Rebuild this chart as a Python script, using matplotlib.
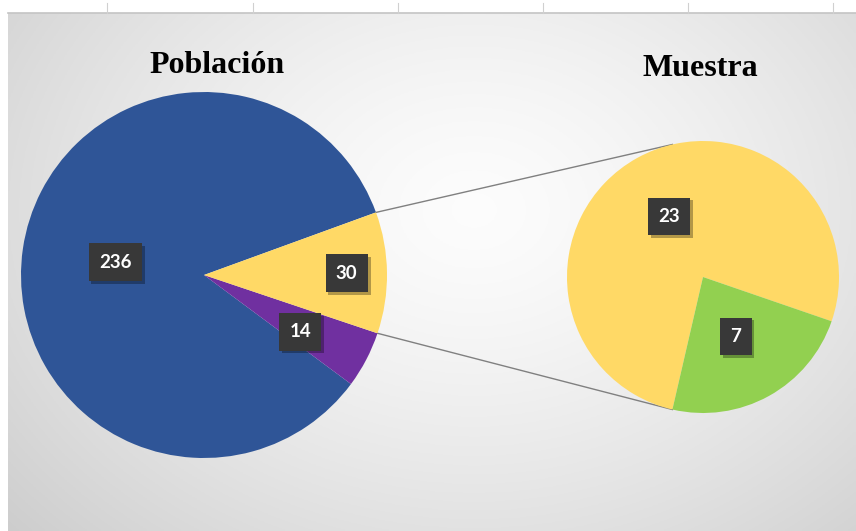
import numpy as np
import matplotlib.pyplot as plt
from matplotlib import patheffects

# datos del gráfico
poblacion_vals = [236, 14, 30]
poblacion_colores = ['#2F5597', '#7030A0', '#FFD966']
muestra_vals = [23, 7]
muestra_colores = ['#FFD966', '#92D050']
titulos = ['Población', 'Muestra']

W, H = 856, 531


def fondo(ax):
    """degradado radial del área del gráfico"""
    x0, x1, y0, y1 = 8, W, 0, H - 13
    xx, yy = np.meshgrid(np.linspace(0, 1, 300), np.linspace(0, 1, 200))
    r = np.sqrt(((xx - 0.55) / 0.75) ** 2 + ((yy - 0.62) / 0.95) ** 2)
    r = np.clip(r, 0, 1)
    g = 0.99 - 0.19 * r ** 1.4
    img = np.dstack([g, g, g])
    ax.imshow(img, extent=[x0, x1, y0, y1], origin='lower', zorder=0, aspect='auto')
    # restos del eje cortado arriba
    ax.plot([8, W], [H - 12.5, H - 12.5], color='#c4c4c4', lw=1.2, zorder=1)
    for xt in [107, 253, 398, 543, 688, 833]:
        ax.plot([xt, xt], [H - 12.5, H - 3], color='#d0d0d0', lw=0.8, zorder=1)


def etiqueta(ax, wedge, valor, dist, giro=0):
    cx, cy = wedge.center
    ang = np.deg2rad((wedge.theta1 + wedge.theta2) / 2 + giro)
    x = cx + dist * wedge.r * np.cos(ang)
    y = cy + dist * wedge.r * np.sin(ang)
    t = ax.text(x, y, str(valor), ha='center', va='center', fontsize=13.5,
                color='white', fontweight='bold', family='Lato', zorder=5,
                bbox=dict(boxstyle='square,pad=0.55', fc='#383838', ec='none'))
    t.get_bbox_patch().set_path_effects([
        patheffects.SimplePatchShadow(offset=(2, -2), shadow_rgbFace='black', alpha=0.3),
        patheffects.Normal()])


fig = plt.figure(figsize=(W / 100, H / 100), dpi=100)
ax = fig.add_axes([0, 0, 1, 1])

fondo(ax)

c1, r1 = (204, 256), 183
c2, r2 = (703, 254), 136

w1, _ = ax.pie(poblacion_vals, colors=poblacion_colores, startangle=20,
               center=c1, radius=r1, frame=True,
               wedgeprops=dict(linewidth=0, zorder=2))
w2, _ = ax.pie(muestra_vals, colors=muestra_colores, startangle=-19,
               center=c2, radius=r2, frame=True,
               wedgeprops=dict(linewidth=0, zorder=2))
ax.set_xlim(0, W)
ax.set_ylim(0, H)
ax.set_aspect('equal')
ax.axis('off')

for w, v, d, g in zip(w1, poblacion_vals, [0.49, 0.61, 0.78], [0, -3, 0]):
    etiqueta(ax, w, v, d, g)
for w, v, d in zip(w2, muestra_vals, [0.51, 0.5]):
    etiqueta(ax, w, v, d)

# líneas de conexión entre el sector amarillo y la segunda torta
amarillo = w1[2]
verde = w2[1]
for a1, a2 in [(amarillo.theta2, -verde.theta1), (amarillo.theta1, verde.theta1)]:
    p1 = (c1[0] + r1 * np.cos(np.deg2rad(a1)), c1[1] + r1 * np.sin(np.deg2rad(a1)))
    p2 = (c2[0] + r2 * np.cos(np.deg2rad(a2)), c2[1] + r2 * np.sin(np.deg2rad(a2)))
    ax.plot([p1[0], p2[0]], [p1[1], p2[1]], color='#808080', lw=1, zorder=1.5)

ax.text(217, H - 72.7, titulos[0], ha='center', va='baseline', fontsize=23,
        fontweight='bold', family='Liberation Serif', zorder=3)
ax.text(700, H - 76, titulos[1], ha='center', va='baseline', fontsize=23,
        fontweight='bold', family='Liberation Serif', zorder=3)

fig.savefig('out.png', dpi=100)
